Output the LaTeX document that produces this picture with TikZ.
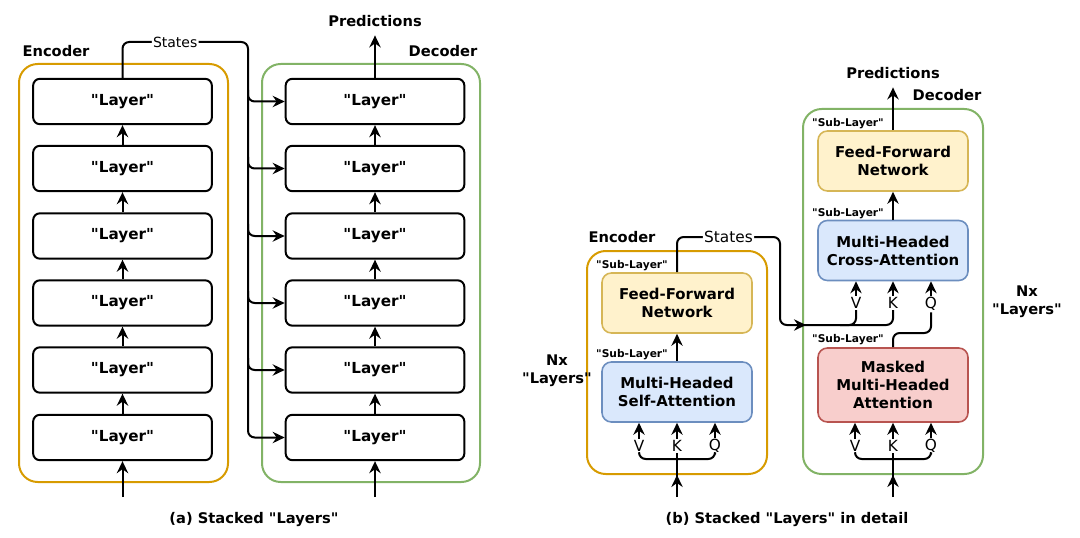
\documentclass[tikz,border=0pt]{standalone}
\usepackage{fontspec}
\newfontfamily\diagfont{DejaVu Sans}
\usetikzlibrary{arrows.meta}

\definecolor{encorange}{HTML}{D79B00}
\definecolor{decgreen}{HTML}{82B366}
\definecolor{ffnfill}{HTML}{FFF2CC}
\definecolor{ffndraw}{HTML}{D6B656}
\definecolor{attfill}{HTML}{DAE8FC}
\definecolor{attdraw}{HTML}{6C8EBF}
\definecolor{maskfill}{HTML}{F8CECC}
\definecolor{maskdraw}{HTML}{B85450}

\begin{document}
\begin{tikzpicture}[x=0.75pt, y=-0.75pt,
  layer/.style={draw, line width=1.5pt, rounded corners=5pt, minimum width=134pt, minimum height=34pt, inner sep=0pt, font=\diagfont\bfseries\fontsize{11.4}{13}\selectfont},
  sublayer/.style={line width=1.2pt, rounded corners=7pt, minimum width=112.5pt, minimum height=45pt, inner sep=0pt, align=center, font=\diagfont\bfseries\fontsize{11.2}{13.4}\selectfont},
  ffn/.style={sublayer, draw=ffndraw, fill=ffnfill},
  att/.style={sublayer, draw=attdraw, fill=attfill},
  masked/.style={sublayer, draw=maskdraw, fill=maskfill, minimum height=55.5pt},
  flow/.style={line width=1.5pt, -{Stealth[length=9pt, width=8.5pt, inset=3pt]}},
  wire/.style={line width=1.5pt, rounded corners=5pt},
  heading/.style={font=\diagfont\bfseries\fontsize{11}{13.5}\selectfont},
  subtag/.style={font=\diagfont\bfseries\fontsize{8}{9}\selectfont},
  qkv/.style={font=\diagfont\fontsize{11.5}{12}\selectfont, inner sep=1pt},
  container/.style={line width=1.5pt, rounded corners=14pt}
]

\useasboundingbox ( 0, 0 ) rectangle ( 1080, 538 );

% Containers
\draw[container, encorange] ( 19, 64 ) rectangle ( 228, 482 );
\draw[container, decgreen] ( 262, 64 ) rectangle ( 480, 482 );
\draw[container, encorange] ( 587, 251 ) rectangle ( 767, 474 );
\draw[container, decgreen] ( 803, 109 ) rectangle ( 983, 474 );

% (a) Encoder stack
\node[layer] (enc1) at ( 122.5, 437.5 ) {"Layer"};
\node[layer] (enc2) at ( 122.5, 370 ) {"Layer"};
\node[layer] (enc3) at ( 122.5, 303 ) {"Layer"};
\node[layer] (enc4) at ( 122.5, 236 ) {"Layer"};
\node[layer] (enc5) at ( 122.5, 168.5 ) {"Layer"};
\node[layer] (enc6) at ( 122.5, 101.5 ) {"Layer"};

\draw[flow] (enc1) -- (enc2);
\draw[flow] (enc2) -- (enc3);
\draw[flow] (enc3) -- (enc4);
\draw[flow] (enc4) -- (enc5);
\draw[flow] (enc5) -- (enc6);

% (a) Decoder stack
\node[layer] (dec1) at ( 375, 437.5 ) {"Layer"};
\node[layer] (dec2) at ( 375, 370 ) {"Layer"};
\node[layer] (dec3) at ( 375, 303 ) {"Layer"};
\node[layer] (dec4) at ( 375, 236 ) {"Layer"};
\node[layer] (dec5) at ( 375, 168.5 ) {"Layer"};
\node[layer] (dec6) at ( 375, 101.5 ) {"Layer"};

\draw[flow] (dec1) -- (dec2);
\draw[flow] (dec2) -- (dec3);
\draw[flow] (dec3) -- (dec4);
\draw[flow] (dec4) -- (dec5);
\draw[flow] (dec5) -- (dec6);

% (a) inputs, states, predictions
\coordinate (encinA) at ( 122.5, 497 );
\coordinate (decinA) at ( 375, 497 );
\draw[flow] (encinA) -- (enc1);
\draw[flow] (decinA) -- (dec1);

\draw[flow, rounded corners=5pt] (enc6.north) -- ( 122.5, 42 ) -- node[pos=0.42, fill=white, qkv, font=\diagfont\fontsize{10.5}{12}\selectfont] {States} ( 248, 42 ) -- ( 248, 437.5 ) -- (dec1.west);
\draw[flow, rounded corners=5pt] ( 248, 90 ) -- ( 248, 101.5 ) -- (dec6.west);
\draw[flow, rounded corners=5pt] ( 248, 157 ) -- ( 248, 168.5 ) -- (dec5.west);
\draw[flow, rounded corners=5pt] ( 248, 224 ) -- ( 248, 236 ) -- (dec4.west);
\draw[flow, rounded corners=5pt] ( 248, 291 ) -- ( 248, 303 ) -- (dec3.west);
\draw[flow, rounded corners=5pt] ( 248, 358 ) -- ( 248, 370 ) -- (dec2.west);

\node[heading] (predA) at ( 375, 21 ) {Predictions};
\draw[flow, shorten >=3pt] (dec6) -- (predA);

% (b) Encoder sub-layers
\node[ffn] (ffnE) at ( 677, 303 ) {Feed-Forward\\Network};
\node[att] (mhsa) at ( 677, 392 ) {Multi-Headed\\Self-Attention};
\draw[flow] (mhsa) -- (ffnE);

\node[qkv] (vE) at ( 639, 446 ) {V};
\node[qkv] (kE) at ( 677, 446 ) {K};
\node[qkv] (qE) at ( 715, 446 ) {Q};
\draw[flow] (vE) -- (vE |- mhsa.south);
\draw[flow] (kE) -- (kE |- mhsa.south);
\draw[flow] (qE) -- (qE |- mhsa.south);
\draw[wire] (vE.south) -- ( 639, 459 ) -- ( 715, 459 ) -- (qE.south);
\coordinate (encinB) at ( 677, 497 );
\draw[flow] (encinB) -- ( 677, 475 );
\draw[line width=1.5pt] ( 677, 479 ) -- (kE.south);

% (b) Decoder sub-layers
\node[ffn] (ffnD) at ( 893, 161 ) {Feed-Forward\\Network};
\node[att] (cross) at ( 893, 250.5 ) {Multi-Headed\\Cross-Attention};
\node[masked] (mask) at ( 893, 385 ) {Masked\\Multi-Headed\\Attention};
\draw[flow] (cross) -- (ffnD);

\node[qkv] (vD) at ( 856, 303 ) {V};
\node[qkv] (kD) at ( 893, 303 ) {K};
\node[qkv] (qD) at ( 931, 304 ) {Q};
\draw[flow] (vD) -- (vD |- cross.south);
\draw[flow] (kD) -- (kD |- cross.south);
\draw[flow] (qD) -- (qD |- cross.south);
\draw[wire] (mask.north) -- ( 893, 333 ) -- ( 931, 333 ) -- (qD.south);

\node[qkv] (vM) at ( 855, 446 ) {V};
\node[qkv] (kM) at ( 893, 446 ) {K};
\node[qkv] (qM) at ( 931, 446 ) {Q};
\draw[flow] (vM) -- (vM |- mask.south);
\draw[flow] (kM) -- (kM |- mask.south);
\draw[flow] (qM) -- (qM |- mask.south);
\draw[wire] (vM.south) -- ( 855, 459 ) -- ( 931, 459 ) -- (qM.south);
\coordinate (decinB) at ( 893, 497 );
\draw[flow] (decinB) -- ( 893, 475 );
\draw[line width=1.5pt] ( 893, 479 ) -- (kM.south);

% (b) states
\draw[flow, rounded corners=5pt] (ffnE.north) -- ( 677, 237 ) -- node[fill=white, qkv] {States} ( 780, 237 ) -- ( 780, 325 ) -- ( 806, 325 );
\draw[wire] ( 800, 325 ) -- ( 893, 325 ) -- (kD.south);
\draw[wire] ( 840, 325 ) -- ( 856, 325 ) -- (vD.south);

\node[heading] (predB) at ( 893, 73 ) {Predictions};
\draw[flow, shorten >=3pt] (ffnD) -- (predB);

% Labels
\node[heading] (encA) at ( 56, 51 ) {Encoder};
\node[heading] (decA) at ( 443, 51 ) {Decoder};
\node[heading] (encB) at ( 622, 237 ) {Encoder};
\node[heading] (decB) at ( 947, 95 ) {Decoder};

\node[subtag] (tagE2) at ( 632, 266 ) {"Sub-Layer"};
\node[subtag] (tagE1) at ( 632, 355 ) {"Sub-Layer"};
\node[subtag] (tagD3) at ( 848, 124 ) {"Sub-Layer"};
\node[subtag] (tagD2) at ( 848, 214 ) {"Sub-Layer"};
\node[subtag] (tagD1) at ( 848, 340 ) {"Sub-Layer"};

\node[heading, align=center] (nxE) at ( 557, 371 ) {Nx\\"Layers"};
\node[heading, align=center] (nxD) at ( 1027, 302 ) {Nx\\"Layers"};

\node[heading] (capA) at ( 254, 520 ) {(a) Stacked "Layers"};
\node[heading] (capB) at ( 787, 520 ) {(b) Stacked "Layers" in detail};

\end{tikzpicture}
\end{document}
